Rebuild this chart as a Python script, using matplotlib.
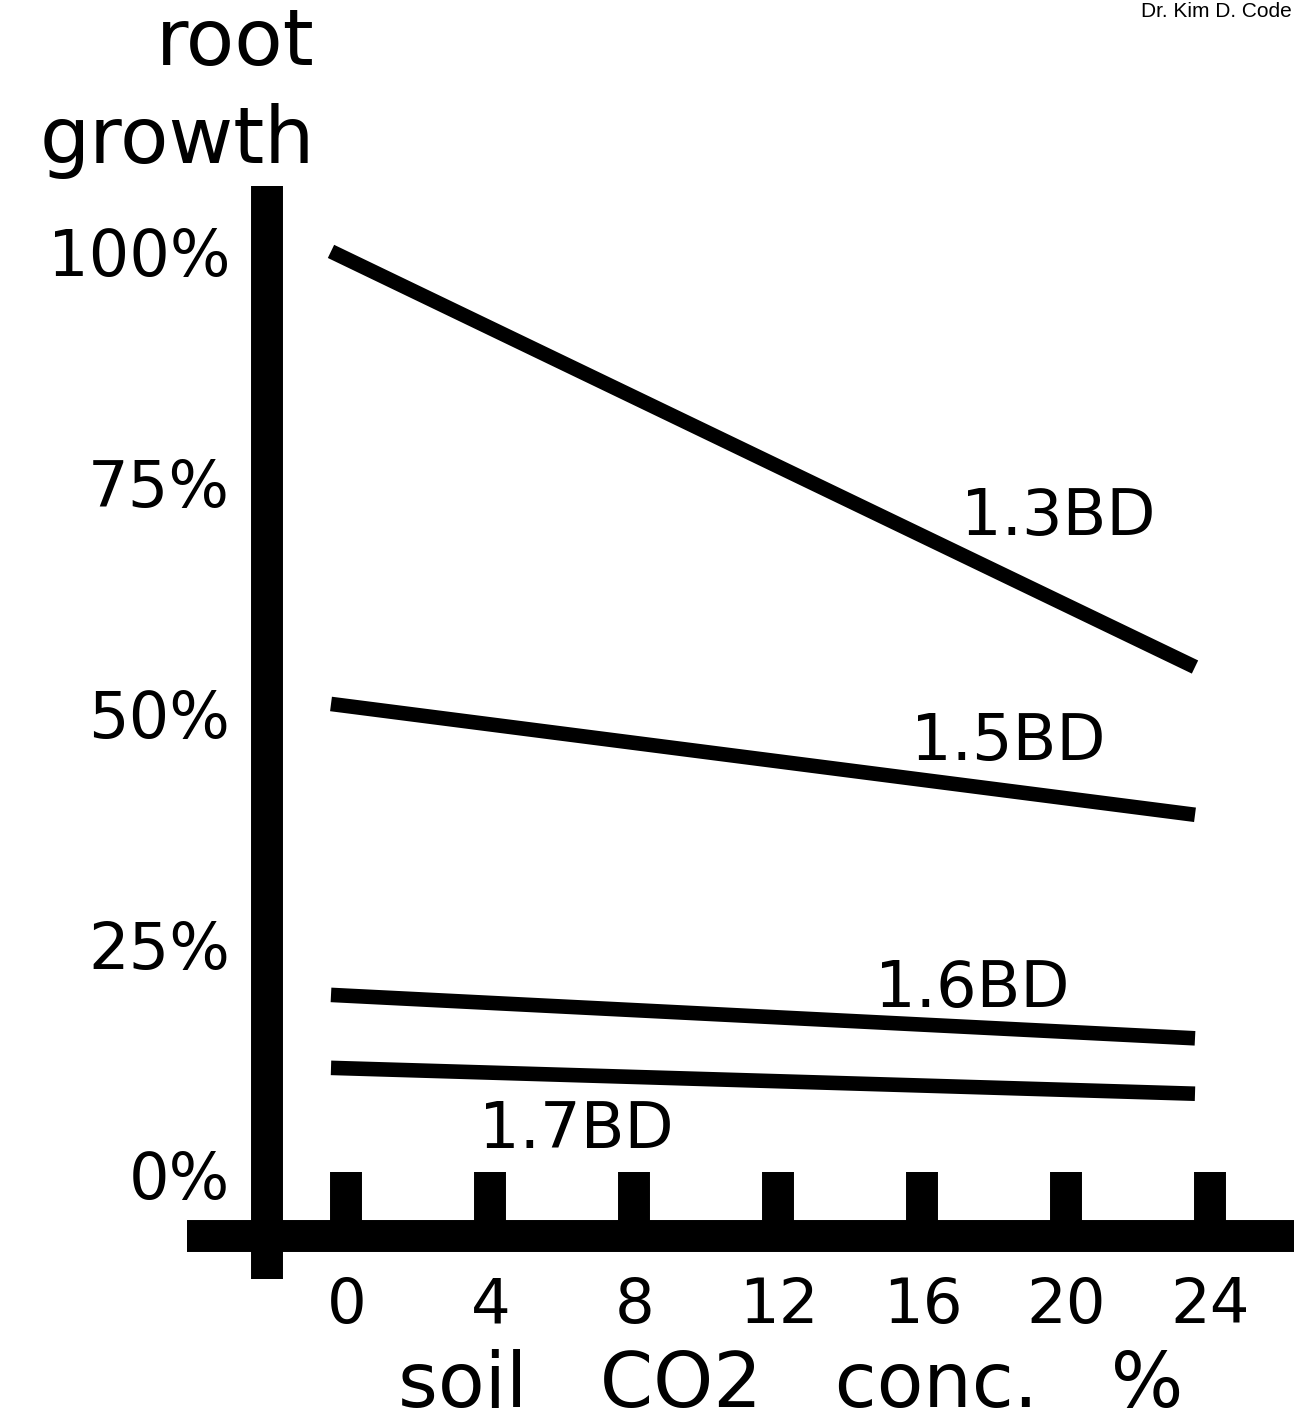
import numpy as np
import matplotlib
matplotlib.use("Agg")
import matplotlib.pyplot as plt

# Daten: Wurzelwachstum (%) ueber CO2-Konzentration im Boden (%)
co2_ticks = [0, 4, 8, 12, 16, 20, 24]
growth_ticks = [0, 25, 50, 75, 100]
growth_labels = ["0%", "25%", "50%", "75%", "100%"]

co2 = [0, 24]
bd_names = ["1.3BD", "1.5BD", "1.6BD", "1.7BD"]
bd_13 = [100, 55]
bd_15 = [51, 39]
bd_16 = [19.5, 14.8]
bd_17 = [11.6, 8.8]

plt.rcParams['font.family'] = ['DejaVu Sans']

W, H = 1294, 1427
fig = plt.figure(figsize=(W / 100, H / 100), dpi=100)
ax = fig.add_axes([0, 0, 1, 1])

# Pixel -> Daten: x = 331 + 36*v, y = 1175 - 9.236*p
px_x = 36.0
px_y = 9.236
ax.set_xlim(-331 / px_x, (W - 331) / px_x)
ax.set_ylim((1175 - H) / px_y, 1175 / px_y)

# Linien
for vals in (bd_13, bd_15, bd_16, bd_17):
    ax.plot(co2, vals, color='black', lw=10.5, solid_capstyle='butt')

# Beschriftungen der Linien
label_pos = [(17.5, 69.3), (16.1, 44.9), (15.1, 18.2), (4.1, 2.9)]
for name, (lx, ly) in zip(bd_names, label_pos):
    ax.text(lx, ly, name, fontsize=46, ha='left', va='baseline')

# Achsen als dicke Balken
for s in ('top', 'right'):
    ax.spines[s].set_visible(False)
ax.spines['left'].set_position(('data', (267 - 331) / px_x))
ax.spines['left'].set_bounds((1175 - 1279) / px_y, (1175 - 186) / px_y)
ax.spines['bottom'].set_position(('data', (1175 - 1236) / px_y))
ax.spines['bottom'].set_bounds((187 - 331) / px_x, (W - 331) / px_x)
for s in ('left', 'bottom'):
    ax.spines[s].set_linewidth(23)
    ax.spines[s].set_capstyle('butt')

ax.set_xticks(np.array(co2_ticks) + 0.43, labels=[str(t) for t in co2_ticks])
ax.tick_params(axis='x', direction='in', length=46, width=23, pad=29,
               labelsize=45, color='black')
ax.set_yticks(growth_ticks, labels=growth_labels)
ax.tick_params(axis='y', length=0, pad=26.6, labelsize=46)

# Achsentitel
fig.text(315 / W, 1 - 65 / H, "root", fontsize=57, ha='right', va='baseline')
fig.text(315 / W, 1 - 163 / H, "growth", fontsize=57, ha='right', va='baseline')
fig.text(791 / W, 1 - 1407 / H, "soil   CO2   conc.   %", fontsize=55,
         ha='center', va='baseline')
fig.text(1292 / W, 1 - 17 / H, "Dr. Kim D. Code", fontsize=15,
         family=['Liberation Sans'], ha='right', va='baseline')

fig.savefig("out.png", dpi=100, facecolor='white')
